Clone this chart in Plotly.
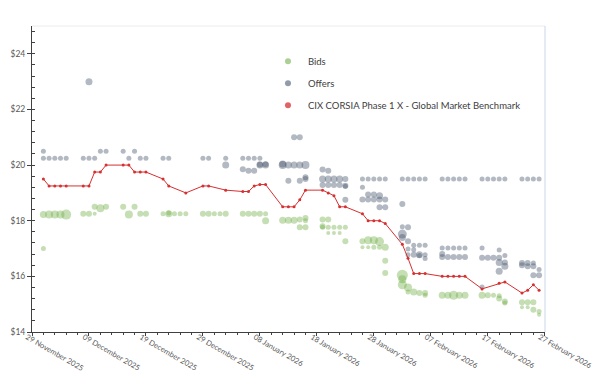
import plotly.graph_objects as go

# ---------------- data ----------------
bench_dates = ["2025-12-01", "2025-12-02", "2025-12-03", "2025-12-04", "2025-12-05",
               "2025-12-08", "2025-12-09", "2025-12-10", "2025-12-11", "2025-12-12",
               "2025-12-15", "2025-12-16", "2025-12-17", "2025-12-18", "2025-12-19",
               "2025-12-22", "2025-12-23", "2025-12-26", "2025-12-29", "2025-12-30",
               "2026-01-02", "2026-01-05", "2026-01-06", "2026-01-07", "2026-01-08",
               "2026-01-09", "2026-01-12", "2026-01-13", "2026-01-14", "2026-01-15",
               "2026-01-16", "2026-01-19", "2026-01-20", "2026-01-21", "2026-01-22",
               "2026-01-23", "2026-01-26", "2026-01-27", "2026-01-28", "2026-01-29",
               "2026-01-30", "2026-02-02", "2026-02-03", "2026-02-04", "2026-02-05",
               "2026-02-06", "2026-02-09", "2026-02-10", "2026-02-11", "2026-02-12",
               "2026-02-13", "2026-02-16", "2026-02-19", "2026-02-20", "2026-02-23",
               "2026-02-24", "2026-02-25", "2026-02-26"]
bench_prices = [19.50, 19.25, 19.25, 19.25, 19.25,
                19.25, 19.25, 19.75, 19.75, 20.00,
                20.00, 20.00, 19.75, 19.75, 19.75,
                19.50, 19.25, 19.00, 19.25, 19.25,
                19.10, 19.05, 19.05, 19.25, 19.30,
                19.30, 18.50, 18.50, 18.50, 18.75,
                19.10, 19.10, 19.00, 18.90, 18.50,
                18.50, 18.25, 18.00, 18.00, 18.00,
                17.90, 17.15, 16.65, 16.10, 16.10,
                16.10, 16.00, 16.00, 16.00, 16.00,
                16.00, 15.55, 15.75, 15.80, 15.40,
                15.50, 15.70, 15.50]

bid_dates = ["2025-12-01", "2025-12-01", "2025-12-02", "2025-12-03", "2025-12-04", "2025-12-05",
             "2025-12-08", "2025-12-09", "2025-12-10", "2025-12-10", "2025-12-11", "2025-12-12",
             "2025-12-15", "2025-12-16", "2025-12-17", "2025-12-18", "2025-12-19",
             "2025-12-22", "2025-12-23", "2025-12-23", "2025-12-24", "2025-12-25", "2025-12-26",
             "2025-12-29", "2025-12-30", "2025-12-31", "2026-01-01", "2026-01-02",
             "2026-01-05", "2026-01-06", "2026-01-07", "2026-01-08", "2026-01-09", "2026-01-09",
             "2026-01-12", "2026-01-13", "2026-01-14", "2026-01-15", "2026-01-15",
             "2026-01-16", "2026-01-16", "2026-01-16",
             "2026-01-19", "2026-01-19", "2026-01-19", "2026-01-20", "2026-01-20", "2026-01-20",
             "2026-01-21", "2026-01-21", "2026-01-22", "2026-01-22", "2026-01-23", "2026-01-23",
             "2026-01-26", "2026-01-26", "2026-01-27", "2026-01-27", "2026-01-28", "2026-01-28",
             "2026-01-29", "2026-01-29", "2026-01-30", "2026-01-30", "2026-01-30",
             "2026-02-02", "2026-02-02", "2026-02-02", "2026-02-03", "2026-02-03", "2026-02-04",
             "2026-02-05", "2026-02-06", "2026-02-06",
             "2026-02-09", "2026-02-10", "2026-02-11", "2026-02-12", "2026-02-13",
             "2026-02-16", "2026-02-17", "2026-02-18", "2026-02-19", "2026-02-19",
             "2026-02-20", "2026-02-20",
             "2026-02-23", "2026-02-23", "2026-02-24", "2026-02-24", "2026-02-25", "2026-02-25",
             "2026-02-26", "2026-02-26"]
bid_prices = [18.22, 17.00, 18.22, 18.22, 18.22, 18.22,
              18.25, 18.25, 18.25, 18.50, 18.45, 18.50,
              18.50, 18.22, 18.50, 18.25, 18.25,
              18.25, 18.25, 18.28, 18.25, 18.25, 18.25,
              18.25, 18.25, 18.25, 18.25, 18.25,
              18.25, 18.25, 18.25, 18.25, 18.25, 18.00,
              18.02, 18.02, 18.02, 18.04, 17.77,
              18.10, 18.00, 17.77,
              18.04, 17.80, 17.77, 18.04, 17.77, 17.56,
              17.77, 17.56, 17.77, 17.56, 17.77, 17.26,
              17.26, 17.05, 17.30, 17.05, 17.30, 17.05,
              17.25, 17.05, 17.05, 16.56, 16.12,
              16.04, 15.90, 15.70, 15.60, 15.44, 15.44,
              15.40, 15.40, 15.32,
              15.32, 15.32, 15.32, 15.32, 15.32,
              15.32, 15.32, 15.32, 15.30, 15.20,
              15.10, 15.04,
              15.07, 14.89, 15.07, 14.89, 15.07, 14.80,
              14.74, 14.62]
bid_volumes = [7, 5, 8, 8, 8, 10,
               6, 6, 4, 6, 8, 6,
               6, 8, 6, 6, 6,
               5, 7, 5, 5, 5, 5,
               6, 6, 5, 5, 6,
               6, 6, 6, 6, 5, 7,
               7, 7, 7, 6, 6,
               6, 5, 6,
               6, 6, 5, 6, 5, 4,
               5, 4, 5, 4, 5, 6,
               6, 4, 8, 4, 8, 5,
               9, 5, 7, 6, 6,
               11, 8, 9, 8, 5, 7,
               6, 6, 5,
               7, 7, 9, 7, 7,
               7, 6, 5, 5, 6,
               6, 5,
               6, 4, 6, 4, 6, 6,
               5, 4]

offer_dates = ["2025-12-01", "2025-12-01", "2025-12-02", "2025-12-03", "2025-12-04", "2025-12-05",
               "2025-12-08", "2025-12-09", "2025-12-09", "2025-12-10", "2025-12-11", "2025-12-12",
               "2025-12-15", "2025-12-16", "2025-12-17", "2025-12-18", "2025-12-19",
               "2025-12-22", "2025-12-23", "2025-12-29", "2025-12-30",
               "2026-01-02", "2026-01-02", "2026-01-05", "2026-01-05", "2026-01-06", "2026-01-06",
               "2026-01-07", "2026-01-07", "2026-01-08", "2026-01-08", "2026-01-08",
               "2026-01-09", "2026-01-09",
               "2026-01-12", "2026-01-12", "2026-01-13", "2026-01-13", "2026-01-14", "2026-01-14",
               "2026-01-15", "2026-01-15", "2026-01-15", "2026-01-16", "2026-01-16", "2026-01-16",
               "2026-01-19", "2026-01-19", "2026-01-19", "2026-01-20", "2026-01-20", "2026-01-20",
               "2026-01-21", "2026-01-21", "2026-01-22", "2026-01-22",
               "2026-01-23", "2026-01-23", "2026-01-23", "2026-01-23",
               "2026-01-26", "2026-01-26", "2026-01-26", "2026-01-27", "2026-01-27", "2026-01-27",
               "2026-01-28", "2026-01-28", "2026-01-28",
               "2026-01-29", "2026-01-29", "2026-01-29", "2026-01-29",
               "2026-01-30", "2026-01-30", "2026-01-30",
               "2026-02-02", "2026-02-02", "2026-02-02", "2026-02-02", "2026-02-02",
               "2026-02-03", "2026-02-03", "2026-02-03", "2026-02-03", "2026-02-03",
               "2026-02-04", "2026-02-04", "2026-02-04", "2026-02-04",
               "2026-02-05", "2026-02-05", "2026-02-05", "2026-02-05",
               "2026-02-06", "2026-02-06", "2026-02-06", "2026-02-06",
               "2026-02-09", "2026-02-09", "2026-02-09", "2026-02-09",
               "2026-02-10", "2026-02-10", "2026-02-10",
               "2026-02-11", "2026-02-11", "2026-02-11",
               "2026-02-12", "2026-02-12", "2026-02-12",
               "2026-02-13", "2026-02-13", "2026-02-13",
               "2026-02-16", "2026-02-16", "2026-02-16", "2026-02-16",
               "2026-02-17", "2026-02-17", "2026-02-18", "2026-02-18",
               "2026-02-19", "2026-02-19", "2026-02-19", "2026-02-19", "2026-02-19",
               "2026-02-20", "2026-02-20", "2026-02-20", "2026-02-20",
               "2026-02-23", "2026-02-23", "2026-02-23",
               "2026-02-24", "2026-02-24", "2026-02-24",
               "2026-02-25", "2026-02-25", "2026-02-25", "2026-02-25",
               "2026-02-26", "2026-02-26", "2026-02-26"]
offer_prices = [20.50, 20.25, 20.25, 20.25, 20.25, 20.25,
                20.25, 20.25, 23.00, 20.25, 20.50, 20.50,
                20.50, 20.25, 20.50, 20.25, 20.25,
                20.25, 20.25, 20.25, 20.25,
                20.25, 20.00, 20.25, 19.85, 20.25, 19.80,
                20.25, 19.80, 20.25, 20.00, 20.02,
                20.00, 20.03,
                20.04, 20.00, 20.00, 19.44, 21.00, 20.00,
                21.00, 20.00, 19.44, 20.00, 19.56, 19.50,
                19.84, 19.50, 19.28, 19.80, 19.50, 19.28,
                19.50, 19.28, 19.50, 19.28,
                19.50, 19.26, 19.24, 18.75,
                19.50, 19.20, 18.76, 19.50, 18.94, 18.76,
                19.50, 18.94, 18.76,
                19.50, 18.90, 18.76, 18.48,
                19.50, 18.76, 18.48,
                19.50, 18.60, 17.78, 17.52, 17.40,
                19.50, 17.77, 17.26, 16.98, 16.78,
                19.50, 17.12, 16.96, 16.78,
                19.50, 17.12, 16.78, 16.75,
                19.50, 17.12, 16.78, 16.64,
                19.50, 17.02, 16.80, 16.70,
                19.50, 17.02, 16.70,
                19.50, 17.02, 16.70,
                19.50, 17.02, 16.70,
                19.50, 17.02, 16.70,
                19.50, 17.02, 16.67, 15.62,
                19.50, 16.67, 19.50, 16.67,
                19.50, 16.95, 16.67, 16.50, 16.18,
                19.50, 16.75, 16.50, 16.36,
                19.50, 16.48, 16.40,
                19.50, 16.48, 16.36,
                19.50, 16.48, 16.36, 16.04,
                19.50, 16.25, 16.04]
offer_volumes = [5, 5, 5, 5, 5, 5,
                 5, 5, 7, 5, 5, 5,
                 5, 5, 5, 5, 5,
                 5, 5, 5, 5,
                 5, 7, 5, 6, 5, 6,
                 5, 6, 5, 7, 6,
                 7, 6,
                 7, 8, 7, 6, 6, 7,
                 6, 7, 6, 8, 6, 6,
                 6, 7, 6, 6, 7, 6,
                 7, 6, 7, 6,
                 6, 6, 5, 6,
                 5, 5, 6, 5, 6, 6,
                 5, 6, 6,
                 5, 7, 6, 6,
                 5, 6, 6,
                 5, 6, 5, 9, 7,
                 5, 6, 6, 5, 5,
                 5, 5, 5, 6,
                 5, 5, 7, 5,
                 5, 5, 5, 5,
                 5, 5, 6, 6,
                 5, 5, 6,
                 5, 5, 6,
                 5, 5, 6,
                 5, 5, 6,
                 5, 5, 6, 5,
                 5, 6, 5, 6,
                 5, 5, 6, 7, 7,
                 5, 5, 6, 7,
                 5, 6, 6,
                 5, 6, 6,
                 5, 5, 6, 6,
                 5, 5, 6]

series_names = ["Bids", "Offers", "CIX CORSIA Phase 1 X - Global Market Benchmark"]
x_tick_start = "2025-11-29"
x_range = ["2025-11-29", "2026-02-27 01:00"]
y_range = [14, 25]

# ---------------- styles ----------------
BID_COLOR = "rgba(112,173,71,0.58)"
OFFER_COLOR = "rgba(68,84,106,0.58)"
LINE_COLOR = "rgb(214,48,48)"
FONT = "Lato, 'Open Sans', sans-serif"
TXT = "#595959"

fig = go.Figure()

fig.add_trace(go.Scatter(
    x=bid_dates, y=bid_prices, mode="markers", name=series_names[0],
    showlegend=False, hoverinfo="x+y",
    marker=dict(size=bid_volumes, sizemode="diameter", sizeref=1.0,
                color=BID_COLOR, line=dict(width=0))))
fig.add_trace(go.Scatter(
    x=offer_dates, y=offer_prices, mode="markers", name=series_names[1],
    showlegend=False, hoverinfo="x+y",
    marker=dict(size=offer_volumes, sizemode="diameter", sizeref=1.0,
                color=OFFER_COLOR, line=dict(width=0))))
fig.add_trace(go.Scatter(
    x=bench_dates, y=bench_prices, mode="lines+markers", name=series_names[2],
    showlegend=False,
    line=dict(color=LINE_COLOR, width=1),
    marker=dict(size=3, color=LINE_COLOR)))

# legend entries (marker-only swatches, like the original)
for nm, col in zip(series_names, [BID_COLOR, OFFER_COLOR, "rgba(214,48,48,0.75)"]):
    fig.add_trace(go.Scatter(
        x=[None], y=[None], mode="markers", name=nm, legendgroup=nm,
        marker=dict(size=6, color=col, line=dict(width=0))))

fig.update_layout(
    width=601, height=374,
    margin=dict(l=24, r=64, t=18, b=50, autoexpand=False),
    paper_bgcolor="white", plot_bgcolor="white",
    font=dict(family=FONT, size=9, color=TXT),
    showlegend=True,
    legend=dict(x=0.46, y=0.932, xanchor="left", yanchor="top",
                bgcolor="rgba(0,0,0,0)", font=dict(size=9.5, color="#404040"),
                tracegroupgap=3, itemwidth=30),
    xaxis=dict(
        type="date", range=x_range, tick0=x_tick_start, dtick=10 * 86400000,
        tickformat="%d %B %Y", tickangle=30, automargin=False,
        ticklabelstandoff=-6, ticklabelshift=-5, ticklabeloverflow="allow",
        showline=True, linecolor="#404040", linewidth=1,
        ticks="outside", ticklen=3, tickcolor="#404040",
        showgrid=False, zeroline=False,
        minor=dict(dtick=2 * 86400000, ticks="outside", ticklen=2, tickcolor="#404040", showgrid=False),
        tickfont=dict(size=7.6, color=TXT)),
    yaxis=dict(
        range=y_range, dtick=2, tick0=0, tickprefix="$", tickformat="d", automargin=False,
        showline=True, linecolor="#404040", linewidth=1,
        ticks="outside", ticklen=4, tickcolor="#404040",
        showgrid=False, zeroline=False,
        minor=dict(dtick=0.4, tick0=0, ticks="inside", ticklen=3, tickcolor="#404040", showgrid=False),
        tickfont=dict(size=8.5, color=TXT)),
    shapes=[
        dict(type="line", xref="paper", yref="paper", x0=0, x1=1, y0=1, y1=1,
             line=dict(color="#ececec", width=1)),
        dict(type="line", xref="paper", yref="paper", x0=1, x1=1, y0=0, y1=1,
             line=dict(color="#c9d7ea", width=1)),
    ],
)

fig.write_html("out.html")
